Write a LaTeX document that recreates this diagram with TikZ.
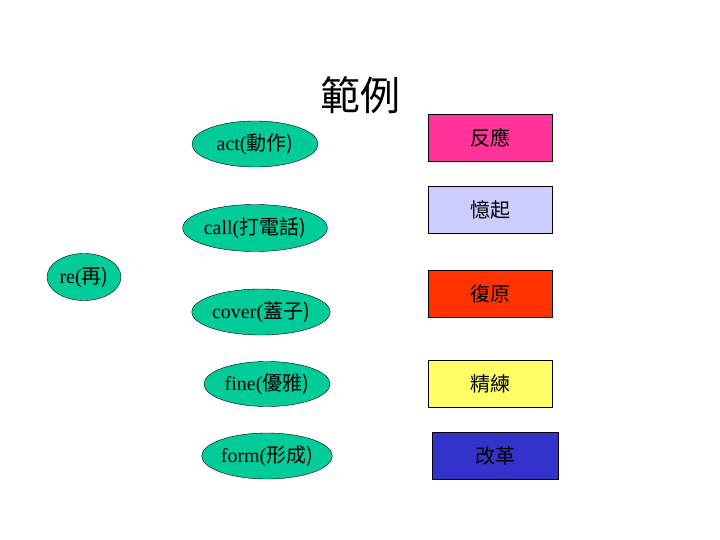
\documentclass[tikz,border=0pt]{standalone}
\usepackage{fontspec}
\setmainfont{Liberation Serif}
\newfontfamily\cjk{Noto Sans CJK TC}
\usetikzlibrary{shapes.geometric}
\begin{document}
\begin{tikzpicture}[x=1pt,y=-1pt,
  ell/.style={ellipse,draw=black,fill=teal!70!green!80!white,fill=cyan!40!green!60!black!60!white,inner sep=0pt,font=\fontsize{20}{22}\selectfont},
  bx/.style={draw=black,minimum width=124pt,minimum height=47pt,font=\fontsize{20}{22}\selectfont\cjk}]
\colorlet{ellc}{green!45!cyan!75!black}
\definecolor{ellc}{RGB}{0,204,153}
\tikzset{ell/.append style={fill=ellc}}
\useasboundingbox (0,0) rectangle (720,540);
\node (t) at (360,95) {\fontsize{40}{44}\selectfont\cjk 範例};
\node[ell,minimum width=126pt,minimum height=46pt] (act) at (255,144) {act(\cjk 動作)};
\node[ell,minimum width=126pt,minimum height=47pt] (call) at (255,228) {call(\cjk 打電話)};
\node[ell,minimum width=74pt,minimum height=47pt] (re) at (84,277) {re(\cjk 再)};
\node[ell,minimum width=128pt,minimum height=46pt] (cover) at (261,312) {cover(\cjk 蓋子)};
\node[ell,minimum width=126pt,minimum height=45pt] (fine) at (267,384) {fine(\cjk 優雅)};
\node[ell,minimum width=127pt,minimum height=46pt] (form) at (267,456) {form(\cjk 形成)};
\node[bx,fill={rgb,255:red,255;green,51;blue,153}] (b1) at (490,138) {反應};
\node[bx,fill={rgb,255:red,204;green,204;blue,255}] (b2) at (490,210) {憶起};
\node[bx,fill={rgb,255:red,255;green,51;blue,0}] (b3) at (490,294) {復原};
\node[bx,fill={rgb,255:red,255;green,255;blue,102}] (b4) at (490,384) {精練};
\node[bx,fill={rgb,255:red,51;green,51;blue,204},minimum width=126pt] (b5) at (495,456) {改革};
\end{tikzpicture}
\end{document}
